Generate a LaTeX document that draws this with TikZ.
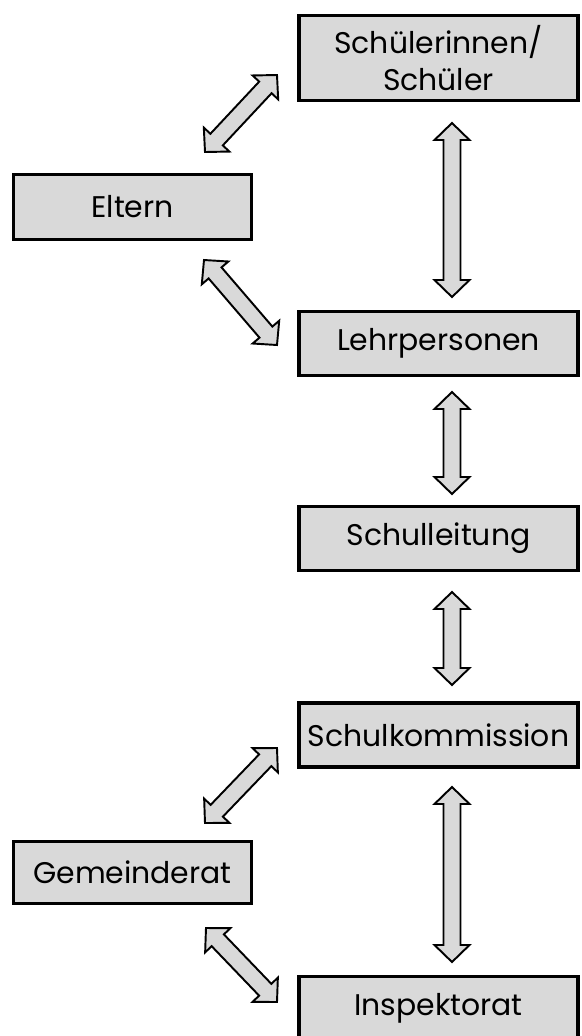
\documentclass[tikz,border=0pt]{standalone}
\usepackage{fontspec}
\setmainfont{Poppins}
\usetikzlibrary{calc}

\definecolor{boxgray}{HTML}{D9D9D9}
\newcommand{\arrlen}{0.34cm}
\newcommand{\arrhead}{0.35cm}
\newcommand{\arrshaft}{0.17cm}

\begin{document}
\begin{tikzpicture}[
        x=0.02cm, y=-0.02cm,
        every node/.style={font=\fontsize{17}{21}\selectfont},
        group/.style={rectangle, draw, line width=2pt, fill=boxgray, align=center, minimum height=1.28cm, inner sep=0pt},
        wide/.style={group, minimum width=5.58cm},
        narrow/.style={group, minimum width=4.76cm},
        dblarrow/.style={draw, line width=1.1pt, fill=boxgray, line join=miter,
            to path={
                -- ($(\tikztostart)!\arrlen!(\tikztotarget)!\arrhead!90:(\tikztotarget)$)
                -- ($(\tikztostart)!\arrlen!(\tikztotarget)!\arrshaft!90:(\tikztotarget)$)
                -- ($(\tikztotarget)!\arrlen!(\tikztostart)!\arrshaft!-90:(\tikztostart)$)
                -- ($(\tikztotarget)!\arrlen!(\tikztostart)!\arrhead!-90:(\tikztostart)$)
                -- (\tikztotarget)
                -- ($(\tikztotarget)!\arrlen!(\tikztostart)!\arrhead!90:(\tikztostart)$)
                -- ($(\tikztotarget)!\arrlen!(\tikztostart)!\arrshaft!90:(\tikztostart)$)
                -- ($(\tikztostart)!\arrlen!(\tikztotarget)!\arrshaft!-90:(\tikztotarget)$)
                -- ($(\tikztostart)!\arrlen!(\tikztotarget)!\arrhead!-90:(\tikztotarget)$)
                -- cycle}}
    ]
        \useasboundingbox (0,0) rectangle (582,1036);

        % schools
        \node[wide, minimum height=1.70cm] (schueler) at (438.5,58) {Schülerinnen/\\Schüler};
        \node[wide] (lehr) at (438.5,343.5) {Lehrpersonen};
        \node[wide] (leitung) at (438.5,538.5) {Schulleitung};
        \node[wide] (kommission) at (438.5,735) {Schulkommission};
        \node[wide] (inspektorat) at (438.5,1008.5) {Inspektorat};

        % left side
        \node[narrow, minimum height=1.30cm] (eltern) at (132.5,207) {Eltern};
        \node[narrow, minimum height=1.24cm] (gemeinde) at (132.5,872.5) {Gemeinderat};

        % vertical links
        \draw[dblarrow] ([shift={(13.5,65)}]schueler.center) to ([shift={(13.5,-46.5)}]lehr.center);
        \draw[dblarrow] ([shift={(13.5,48.5)}]lehr.center) to ([shift={(13.5,-44.5)}]leitung.center);
        \draw[dblarrow] ([shift={(13.5,53.5)}]leitung.center) to ([shift={(13.5,-50)}]kommission.center);
        \draw[dblarrow] ([shift={(13.5,52)}]kommission.center) to ([shift={(13.5,-46.5)}]inspektorat.center);

        % diagonal links
        \draw[dblarrow] ([shift={(72.5,-55)}]eltern.center) to ([shift={(-161.5,17)}]schueler.center);
        \draw[dblarrow] ([shift={(71.5,53)}]eltern.center) to ([shift={(-161.5,1.5)}]lehr.center);
        \draw[dblarrow] ([shift={(72.5,-49.5)}]gemeinde.center) to ([shift={(-161.5,13)}]kommission.center);
        \draw[dblarrow] ([shift={(73.5,55.5)}]gemeinde.center) to ([shift={(-161.5,-6.5)}]inspektorat.center);
    \end{tikzpicture}
\end{document}
